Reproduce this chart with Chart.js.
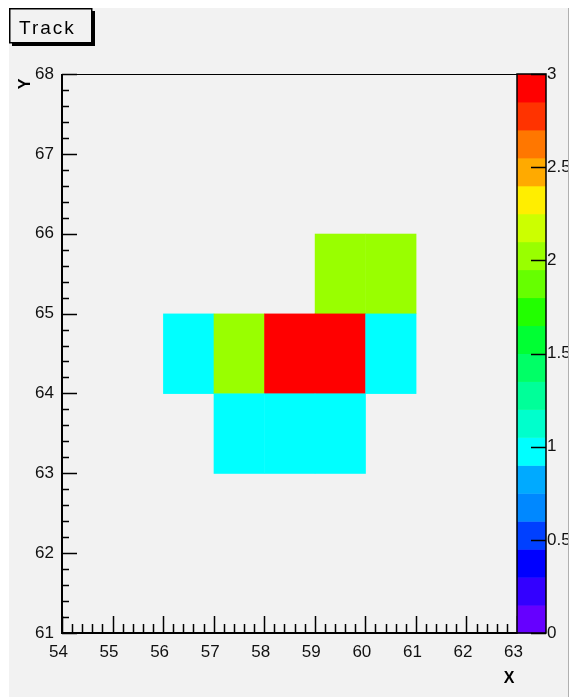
<!DOCTYPE html>
<html>
<head>
<meta charset="utf-8">
<script src="https://cdn.jsdelivr.net/npm/chart.js@4/dist/chart.umd.min.js"></script>
<style>
  html, body { margin: 0; padding: 0; background: #fff; }
  #wrap {
    position: absolute; left: 9px; top: 8px;
    width: 559px; height: 689px;
    background: #f2f2f2;
    border-right: 1px solid #b0b0b0;
  }
  canvas { display: block; }
</style>
</head>
<body>
<div id="wrap"><canvas id="track" width="559" height="689"></canvas></div>
<script>
// bins (lower edges, width 1) and their contents
const cellX = [59, 60, 56, 57, 58, 59, 60, 57, 58, 59];
const cellY = [65, 65, 64, 64, 64, 64, 64, 63, 63, 63];
const cellZ = [2, 2, 1, 2, 3, 3, 1, 1, 1, 1];

const xRange = [54, 63];
const yRange = [61, 68];
const zRange = [0, 3];

// 20 contour levels, bottom to top
const paletteColors = [
    '#6600ff', '#3300ff', '#0000ff', '#0040ff', '#0088ff',
    '#00aaff', '#00ffff', '#00ffcc', '#00ff99', '#00ff66',
    '#00ff33', '#22ff00', '#66ff00', '#99ff00', '#ccff00',
    '#ffee00', '#ffaa00', '#ff7700', '#ff3300', '#ff0000'
];

const FONT = 'Liberation Sans, Arial, sans-serif';
const PAL_W = 29;

function colorFor(v) {
    const step = (zRange[1] - zRange[0]) / paletteColors.length;
    let i = Math.floor((v - zRange[0]) / step);
    if (i >= paletteColors.length) i = paletteColors.length - 1;
    if (i < 0) i = 0;
    return paletteColors[i];
}

// draws the bins as filled boxes (COLZ style)
const colzPlugin = {
    id: 'colz',
    beforeDatasetsDraw(chart) {
        const { ctx, chartArea } = chart;
        const xs = chart.scales.x, ys = chart.scales.y;
        ctx.save();
        ctx.beginPath();
        ctx.rect(chartArea.left, chartArea.top, chartArea.right - chartArea.left, chartArea.bottom - chartArea.top);
        ctx.clip();
        for (let i = 0; i < cellZ.length; i++) {
            const x0 = xs.getPixelForValue(cellX[i]);
            const x1 = xs.getPixelForValue(cellX[i] + 1);
            const y0 = ys.getPixelForValue(cellY[i]);
            const y1 = ys.getPixelForValue(cellY[i] + 1);
            ctx.fillStyle = colorFor(cellZ[i]);
            ctx.fillRect(x0, y1, x1 - x0 + 0.5, y0 - y1 + 0.5);
        }
        ctx.restore();
    }
};

// frame, inward ticks, palette, titles
const framePlugin = {
    id: 'frame',
    afterDraw(chart) {
        const { ctx, chartArea } = chart;
        const xs = chart.scales.x, ys = chart.scales.y, zs = chart.scales.z;
        const L = chartArea.left, R = chartArea.right, T = chartArea.top, B = chartArea.bottom;
        ctx.save();
        ctx.strokeStyle = '#000';

        // frame
        ctx.lineWidth = 1;
        ctx.strokeRect(L + 0.5, T + 0.5, R - L, B - T);
        ctx.lineWidth = 2;
        ctx.beginPath();
        ctx.moveTo(L, T); ctx.lineTo(L, B); ctx.lineTo(R, B);
        ctx.stroke();

        // ticks
        ctx.lineWidth = 1.5;
        ctx.beginPath();
        for (let k = 0; k <= (xRange[1] - xRange[0]) * 5; k++) {
            const v = xRange[0] + k * 0.2;
            const px = Math.round(xs.getPixelForValue(v)) + 0.5;
            const len = k % 5 === 0 ? 17 : 9;
            ctx.moveTo(px, B); ctx.lineTo(px, B - len);
        }
        for (let k = 0; k <= (yRange[1] - yRange[0]) * 5; k++) {
            const v = yRange[0] + k * 0.2;
            const py = Math.round(ys.getPixelForValue(v)) + 0.5;
            const len = k % 5 === 0 ? 15 : 7;
            ctx.moveTo(L, py); ctx.lineTo(L + len, py);
        }
        ctx.stroke();

        // palette
        const pL = R, pR = R + PAL_W;
        const step = (zRange[1] - zRange[0]) / paletteColors.length;
        paletteColors.forEach((c, i) => {
            const y0 = zs.getPixelForValue(zRange[0] + i * step);
            const y1 = zs.getPixelForValue(zRange[0] + (i + 1) * step);
            ctx.fillStyle = c;
            ctx.fillRect(pL, y1, PAL_W, y0 - y1 + 0.5);
        });
        ctx.lineWidth = 1.5;
        ctx.strokeRect(pL, zs.getPixelForValue(zRange[1]), PAL_W, zs.getPixelForValue(zRange[0]) - zs.getPixelForValue(zRange[1]));
        ctx.beginPath();
        zs.ticks.forEach(t => {
            const py = Math.round(zs.getPixelForValue(t.value)) + 0.5;
            ctx.moveTo(pR, py); ctx.lineTo(pR - 15, py);
        });
        ctx.stroke();

        // title box with shadow
        ctx.fillStyle = '#000';
        ctx.fillRect(83, 3, 3, 35);
        ctx.fillRect(3, 35, 83, 3);
        ctx.fillStyle = '#f2f2f2';
        ctx.fillRect(0, 0, 83, 35);
        ctx.lineWidth = 1.5;
        ctx.strokeRect(0.75, 0.75, 82, 34);
        ctx.fillStyle = '#000';
        ctx.font = '19px ' + FONT;
        ctx.letterSpacing = '2px';
        ctx.textAlign = 'left';
        ctx.textBaseline = 'alphabetic';
        ctx.fillText('Track', 10, 26);
        ctx.letterSpacing = '0px';

        // axis titles
        ctx.font = 'bold 16px ' + FONT;
        ctx.textAlign = 'center';
        ctx.textBaseline = 'middle';
        ctx.fillText('X', 500, 671);
        ctx.translate(17, 76);
        ctx.rotate(-Math.PI / 2);
        ctx.fillText('Y', 0, 0);
        ctx.restore();
    }
};

const tickFont = { family: FONT, size: 17 };

new Chart(document.getElementById('track'), {
    type: 'scatter',
    data: {
        datasets: [{
            data: cellX.map((x, i) => ({ x: x + 0.5, y: cellY[i] + 0.5 })),
            pointRadius: 0,
            xAxisID: 'x',
            yAxisID: 'y'
        }]
    },
    options: {
        responsive: false,
        animation: false,
        devicePixelRatio: 1,
        layout: { padding: { top: 66, left: 0, right: 0, bottom: 0 } },
        plugins: { legend: { display: false }, tooltip: { enabled: false } },
        scales: {
            x: {
                type: 'linear', position: 'bottom',
                min: xRange[0], max: xRange[1],
                grid: { display: false, drawTicks: false }, border: { display: false },
                ticks: { stepSize: 1, autoSkip: false, maxRotation: 0, font: tickFont, color: '#111', padding: 9, labelOffset: -3.5 },
                afterFit(s) { s.height = 64; }
            },
            y: {
                type: 'linear', position: 'left',
                min: yRange[0], max: yRange[1],
                grid: { display: false, drawTicks: false }, border: { display: false },
                ticks: { stepSize: 1, autoSkip: false, font: tickFont, color: '#111', padding: 8 },
                afterFit(s) { s.width = 53; }
            },
            z: {
                type: 'linear', position: 'right', axis: 'y',
                min: zRange[0], max: zRange[1],
                grid: { display: false, drawTicks: false }, border: { display: false },
                ticks: { stepSize: 0.5, autoSkip: false, font: tickFont, color: '#111', padding: 30, callback: v => String(v) },
                afterFit(s) { s.width = 51; }
            }
        }
    },
    plugins: [colzPlugin, framePlugin]
});
</script>
</body>
</html>
